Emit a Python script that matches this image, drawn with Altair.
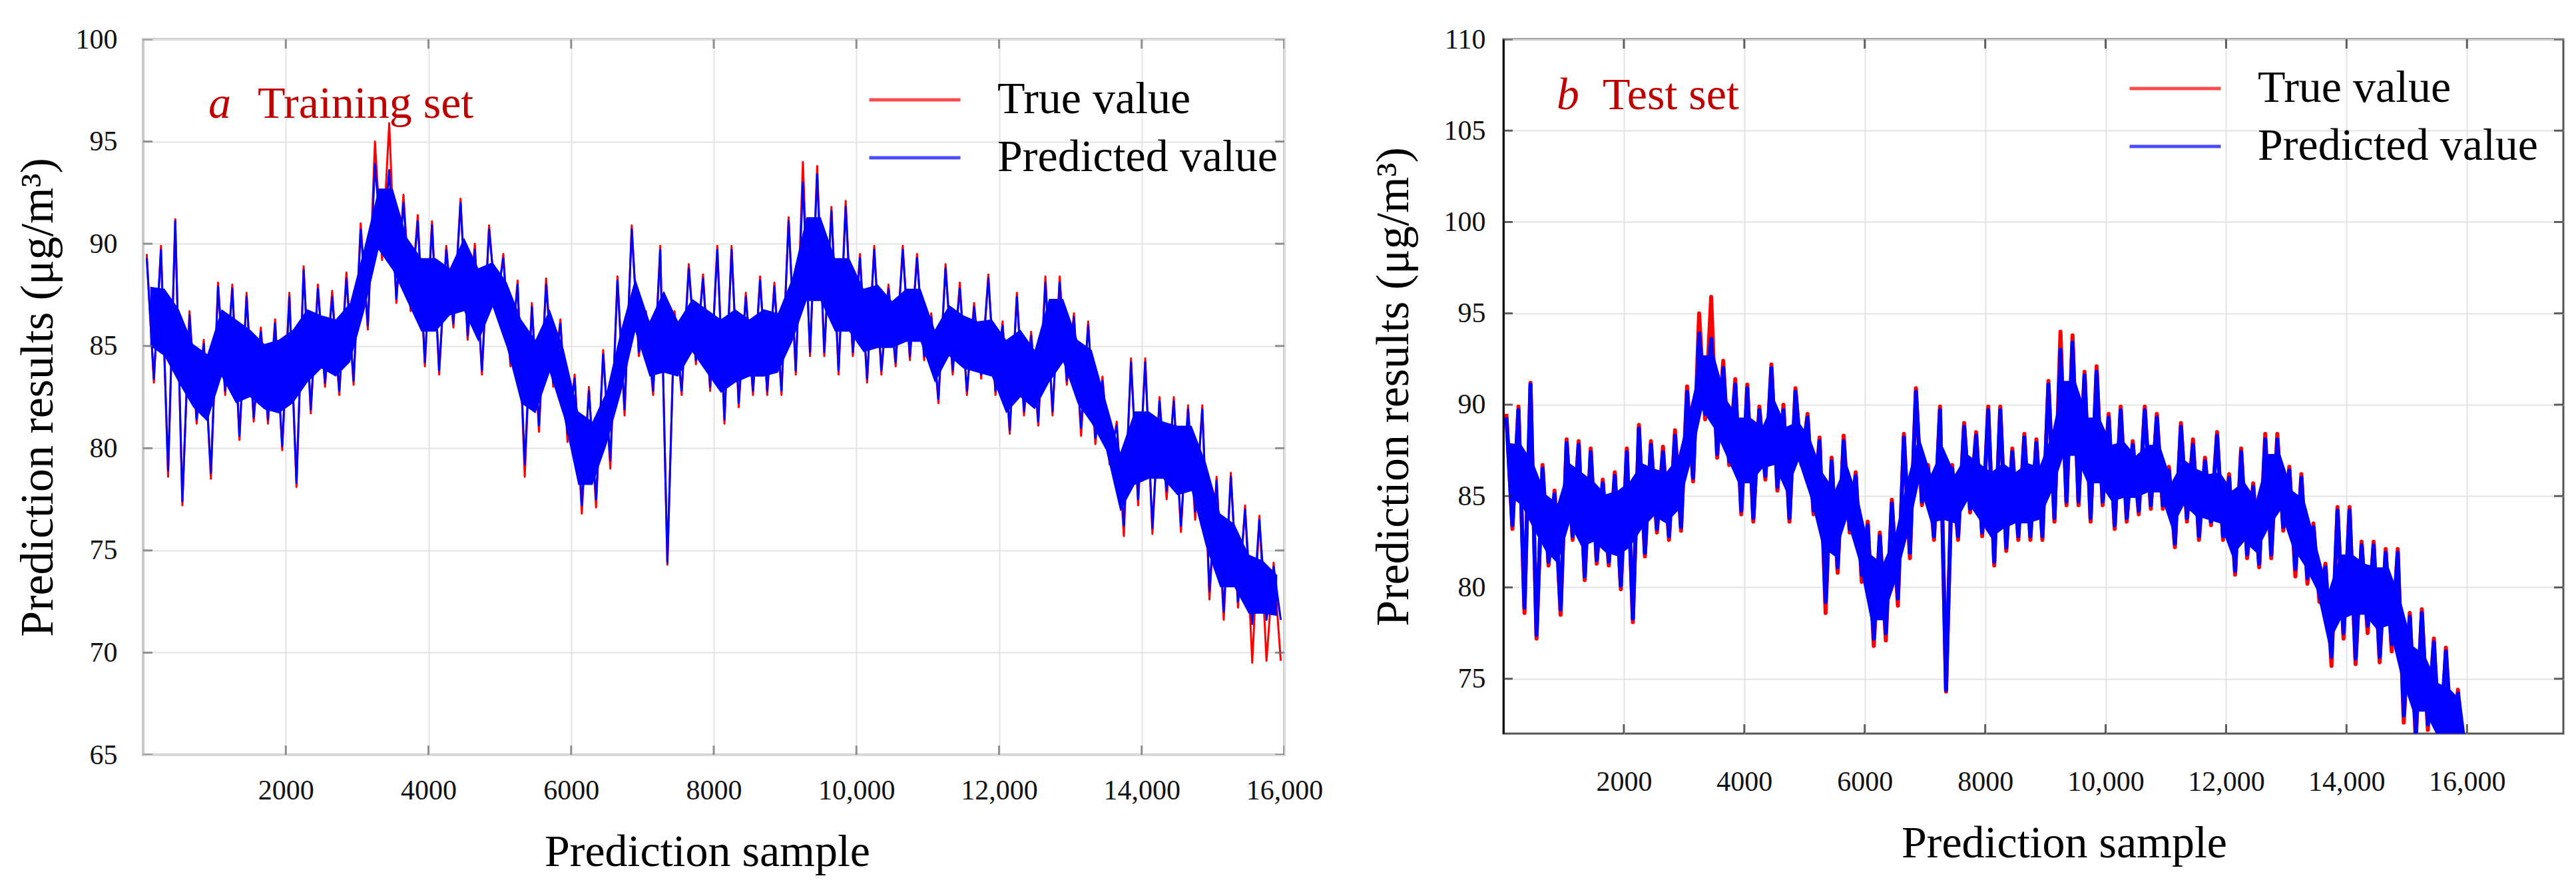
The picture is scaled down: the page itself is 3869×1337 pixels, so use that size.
import altair as alt
import pandas as pd

FONT = "Liberation Serif"
SERIES = ["True value", "Predicted value"]
COLORS = ["#ff0000", "#0000ff"]

# start sample of each 200-sample bin
BIN_START = list(range(0, 16000, 200))

# dense core of the trace in each bin (top / bottom)
CORE_HI = [87.9, 87.8, 86.8, 85.1, 84.6, 86.8, 86.3, 85.8, 85.1, 85.3,
           85.8, 86.8, 86.5, 86.3, 87.1, 89.8, 92.7, 92.7, 90.3, 89.3,
           89.3, 88.8, 90.3, 88.8, 89.1, 88.1, 86.3, 85.3, 86.8, 84.8,
           81.8, 81.3, 82.8, 85.8, 88.3, 86.2, 87.7, 86.2, 87.3, 86.8,
           86.3, 86.8, 86.3, 86.8, 86.6, 88.3, 91.3, 91.3, 89.3, 89.3,
           87.8, 88.0, 87.2, 87.8, 87.8, 85.8, 87.0, 86.5, 86.2, 86.3,
           85.3, 85.8, 84.8, 87.3, 87.3, 85.3, 84.8, 82.3, 79.8, 81.8,
           81.8, 81.3, 81.1, 81.1, 79.3, 76.8, 76.3, 74.8, 74.5, 73.8]
CORE_LO = [85.0, 84.5, 83.2, 82.0, 81.3, 83.5, 82.2, 82.5, 81.9, 81.7,
           82.2, 83.2, 83.9, 83.5, 84.2, 86.7, 89.7, 88.7, 87.2, 85.7,
           85.7, 86.5, 86.7, 85.2, 86.9, 84.9, 82.2, 81.7, 83.7, 81.5,
           78.2, 78.2, 80.2, 82.7, 85.7, 83.5, 83.7, 83.5, 84.7, 83.7,
           82.7, 83.2, 83.5, 83.5, 83.7, 85.2, 87.2, 87.2, 85.7, 85.7,
           84.7, 84.9, 84.9, 85.2, 85.2, 83.2, 84.5, 83.9, 83.7, 83.5,
           81.7, 82.5, 81.9, 83.2, 84.2, 82.2, 81.2, 79.9, 76.9, 78.2,
           78.5, 78.5, 77.7, 77.9, 75.2, 73.2, 73.2, 71.9, 71.9, 71.8]
# spike extremes of the blue (predicted) trace in each bin
PRED_HI = [89.3, 89.7, 91.1, 86.5, 85.1, 87.9, 87.8, 87.4, 85.7, 86.1,
           87.4, 88.7, 87.8, 87.4, 88.3, 90.7, 93.9, 93.6, 92.0, 91.1,
           90.9, 89.7, 92.0, 89.7, 90.7, 89.3, 88.0, 86.9, 88.0, 86.1,
           83.4, 82.8, 84.6, 88.2, 90.7, 86.5, 89.7, 86.5, 88.8, 88.3,
           89.7, 89.7, 87.4, 88.2, 87.9, 91.1, 93.0, 93.4, 91.6, 91.8,
           89.3, 89.7, 87.8, 89.7, 89.3, 86.4, 88.8, 87.8, 86.9, 88.3,
           86.0, 87.4, 85.5, 88.1, 88.1, 86.4, 86.0, 83.3, 81.1, 84.2,
           84.2, 82.3, 82.3, 81.9, 81.9, 78.4, 78.6, 77.0, 76.5, 74.2]
PRED_LO = [83.4, 78.9, 77.4, 81.4, 78.8, 82.8, 80.6, 81.5, 81.4, 80.1,
           78.3, 81.9, 83.2, 82.8, 83.3, 86.0, 89.5, 87.3, 86.9, 84.2,
           83.8, 86.1, 85.5, 83.8, 86.9, 84.2, 79.2, 81.1, 83.2, 80.7,
           77.2, 77.5, 79.4, 81.9, 84.7, 82.8, 74.4, 82.8, 84.3, 83.0,
           81.4, 82.2, 82.8, 82.8, 82.8, 83.8, 84.7, 84.7, 83.8, 84.7,
           83.4, 83.8, 84.2, 84.5, 84.5, 82.4, 83.8, 82.8, 83.6, 82.8,
           80.9, 81.8, 81.3, 81.8, 83.3, 81.0, 80.5, 79.6, 76.2, 77.5,
           76.1, 77.9, 76.2, 76.9, 73.0, 72.0, 72.5, 71.4, 71.6, 71.6]
# spike extremes of the red (true) trace in each bin
TRUE_HI = [89.5, 89.9, 91.2, 86.7, 85.3, 88.1, 88.0, 87.6, 85.9, 86.3,
           87.6, 88.9, 88.0, 87.7, 88.6, 91.0, 95.0, 95.9, 92.4, 91.4,
           91.1, 89.9, 92.2, 90.0, 90.9, 89.5, 88.2, 87.1, 88.3, 86.3,
           83.6, 83.0, 84.8, 88.4, 90.9, 86.7, 89.9, 86.7, 89.0, 88.5,
           89.9, 89.9, 87.6, 88.4, 88.1, 91.3, 94.0, 93.8, 91.8, 92.1,
           89.5, 89.9, 88.0, 89.9, 89.5, 86.6, 89.0, 88.1, 87.1, 88.5,
           86.2, 87.6, 85.7, 88.4, 88.4, 86.6, 86.2, 83.5, 81.3, 84.4,
           84.4, 82.5, 82.5, 82.1, 82.1, 78.6, 78.8, 77.2, 76.7, 74.4]
TRUE_LO = [83.2, 78.6, 77.2, 81.2, 78.5, 82.6, 80.4, 81.3, 81.2, 79.9,
           78.1, 81.7, 83.0, 82.6, 83.1, 85.8, 89.2, 87.1, 86.7, 84.0,
           83.6, 85.9, 85.3, 83.6, 86.7, 84.0, 78.6, 80.8, 83.0, 80.3,
           76.8, 77.1, 79.0, 81.6, 84.5, 82.6, 74.3, 82.6, 84.1, 82.8,
           81.2, 82.0, 82.6, 82.6, 82.6, 83.6, 84.5, 84.5, 83.6, 84.5,
           83.2, 83.6, 84.0, 84.3, 84.3, 82.2, 83.6, 82.6, 83.4, 82.6,
           80.7, 81.6, 81.1, 81.6, 83.1, 80.6, 80.2, 79.2, 75.7, 77.2,
           75.8, 77.5, 75.9, 76.5, 72.6, 71.6, 72.2, 69.5, 69.6, 69.6]

X_TICKS = [2000, 4000, 6000, 8000, 10000, 12000, 14000, 16000]
Y_TICKS_A = [65, 70, 75, 80, 85, 90, 95, 100]
Y_TICKS_B = [75, 80, 85, 90, 95, 100, 105, 110]

PANEL_LETTER = ["a", "b"]
PANEL_TEXT = ["Training set", "Test set"]
LETTER_X = [915, 884]
TEXT_X = [1605, 1647]
LABEL_Y = [96.8, 106.9]

trace_rows = []
core_rows = []
for i, s in enumerate(BIN_START):
    core_rows.append({"sample": s + 100, "lo": CORE_LO[i], "hi": CORE_HI[i]})
    trace_rows.append({"sample": s + 50, "value": TRUE_HI[i], "series": "True value"})
    trace_rows.append({"sample": s + 150, "value": TRUE_LO[i], "series": "True value"})
    trace_rows.append({"sample": s + 50, "value": PRED_HI[i], "series": "Predicted value"})
    trace_rows.append({"sample": s + 150, "value": PRED_LO[i], "series": "Predicted value"})
trace = pd.DataFrame(trace_rows)
core = pd.DataFrame(core_rows)

LABEL_EXPR = "datum.value >= 10000 ? format(datum.value, ',') : format(datum.value, 'd')"


def panel(k, xmax, ymin, ymax, yticks, w, h, sw, xlabpad, ylabpad, ytitlepad, xtitlex,
          legx, legy, view_stroke, view_sw, ydomain, tick_color):
    xs = alt.Scale(domain=[0, xmax], nice=False, zero=False)
    ys = alt.Scale(domain=[ymin, ymax], nice=False, zero=False)
    xaxis = alt.Axis(values=X_TICKS, labelExpr=LABEL_EXPR, grid=True, gridColor="#e3e3e3",
                     gridWidth=2, domain=False, ticks=False, labelFont=FONT, labelFontSize=42,
                     labelColor="#111111", labelPadding=xlabpad, labelFlush=False,
                     labelOverlap=False, title="Prediction sample", titleFont=FONT,
                     titleFontSize=68, titleFontWeight="normal", titleColor="#000000",
                     titlePadding=38, titleX=xtitlex)
    yaxis = alt.Axis(values=yticks, grid=True, gridColor="#e3e3e3", gridWidth=2,
                     domain=ydomain, domainColor="#111111", domainWidth=3, ticks=False,
                     labelFont=FONT, labelFontSize=42, labelColor="#111111",
                     labelPadding=ylabpad, labelFlush=False, labelOverlap=False,
                     title="Prediction results (μg/m³)", titleFont=FONT, titleFontSize=70,
                     titleFontWeight="normal", titleColor="#000000", titlePadding=ytitlepad)
    color = alt.Color("series:N", scale=alt.Scale(domain=SERIES, range=COLORS),
                      legend=alt.Legend(title=None, orient="none", legendX=legx, legendY=legy,
                                        symbolType="M-3,0H3", symbolSize=2085,
                                        symbolStrokeWidth=5, symbolOpacity=0.7,
                                        labelFont=FONT, labelFontSize=68, labelColor="#000000",
                                        labelOffset=90, rowPadding=19, padding=0,
                                        labelLimit=1000))
    X = alt.X("sample:Q", scale=xs, axis=xaxis)
    Y = alt.Y("value:Q", scale=ys, axis=yaxis)
    red = alt.Chart(trace).transform_filter(alt.datum.series == "True value").mark_line(
        strokeWidth=sw, strokeJoin="round", clip=True).encode(x=X, y=Y, color=color)
    band = alt.Chart(core).mark_area(color="#0000ff", opacity=1, clip=True).encode(
        x=X, y=alt.Y("lo:Q", scale=ys, axis=yaxis), y2="hi:Q")
    blue = alt.Chart(trace).transform_filter(alt.datum.series == "Predicted value").mark_line(
        strokeWidth=sw, strokeJoin="round", clip=True).encode(x=X, y=Y, color=color)
    ann1 = pd.DataFrame({"sample": [LETTER_X[k]], "value": [LABEL_Y[k]], "t": [PANEL_LETTER[k]]})
    ann2 = pd.DataFrame({"sample": [TEXT_X[k]], "value": [LABEL_Y[k]], "t": [PANEL_TEXT[k]]})
    letter = alt.Chart(ann1).mark_text(align="left", baseline="middle", font=FONT, fontSize=68,
                                       fontStyle="italic", color="#c00000").encode(
        x=X, y=Y, text="t:N")
    text = alt.Chart(ann2).mark_text(align="left", baseline="middle", font=FONT, fontSize=68,
                                     color="#c00000").encode(
        x=X, y=Y, text="t:N")
    # inward tick marks along the frame, at the tick values
    xt = pd.DataFrame({"sample": X_TICKS * 2,
                       "value": [ymin] * len(X_TICKS) + [ymax] * len(X_TICKS)})
    yt = pd.DataFrame({"sample": [0] * len(yticks) + [xmax] * len(yticks),
                       "value": list(yticks) * 2})
    xtick = alt.Chart(xt).mark_tick(orient="vertical", size=28, thickness=3,
                                    color=tick_color, clip=True).encode(x=X, y=Y)
    ytick = alt.Chart(yt).mark_tick(orient="horizontal", size=28, thickness=3,
                                    color=tick_color, clip=True).encode(x=X, y=Y)
    props = dict(width=w, height=h,
                 view=alt.ViewBackground(stroke=view_stroke, strokeWidth=view_sw))
    if k == 1:
        props["title"] = alt.TitleParams(" ", fontSize=2, offset=9)
    return alt.layer(red, band, blue, xtick, ytick, letter, text).properties(**props)


left = panel(0, 16000, 65, 100, Y_TICKS_A, 1714, 1075, 3, 33, 39, 20, 847,
             1125, 57, "#c8c8c8", 4, False, "#666666")
right = panel(1, 17600, 72, 110, Y_TICKS_B, 1592, 1043, 6, 52, 27, 39, 842,
              975, 40, "#555555", 3, True, "#222222")

chart = alt.hconcat(left, right, spacing=67).resolve_scale(color="independent").properties(
    padding={"left": 12, "top": 17, "right": 5, "bottom": 5},
    background="white")

chart.save("out.html", embed_options={"renderer": "svg", "actions": False})
